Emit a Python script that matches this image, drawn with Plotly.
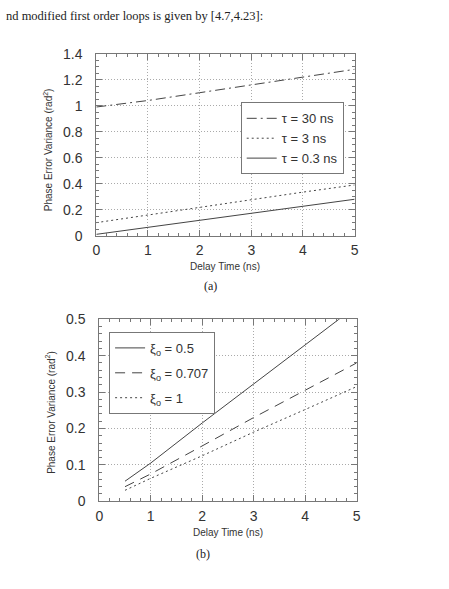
import plotly.graph_objects as go

# ---- data ----
delay_a = [0, 1, 2, 3, 4, 5]
tau30 = [0.99, 1.04, 1.10, 1.16, 1.22, 1.28]
tau3 = [0.10, 0.16, 0.22, 0.28, 0.335, 0.39]
tau03 = [0.01, 0.065, 0.12, 0.175, 0.23, 0.28]

delay_b = [0.5, 1, 2, 3, 4, 5]
xi05 = [0.055, 0.105, 0.215, 0.322, 0.43, 0.537]
xi0707 = [0.040, 0.075, 0.152, 0.23, 0.305, 0.38]
xi1 = [0.030, 0.063, 0.125, 0.19, 0.252, 0.315]

W, H = 449, 589
LINE = "#444444"
AX = "#777777"
TXT = "#333333"
SANS = "Liberation Sans, Arial, sans-serif"
SERIF = "Liberation Serif, Times New Roman, serif"

def px_x(x):
    return x / W

def px_y(y):
    return 1 - y / H

fig = go.Figure()

fig.add_trace(go.Scatter(x=delay_a, y=tau30, mode="lines", name="τ = 30 ns",
                         line=dict(color=LINE, width=1, dash="10px,4px,2px,4px"),
                         xaxis="x", yaxis="y", legend="legend"))
fig.add_trace(go.Scatter(x=delay_a, y=tau3, mode="lines", name="τ = 3 ns",
                         line=dict(color=LINE, width=1, dash="2px,3px"),
                         xaxis="x", yaxis="y", legend="legend"))
fig.add_trace(go.Scatter(x=delay_a, y=tau03, mode="lines", name="τ = 0.3 ns",
                         line=dict(color=LINE, width=1),
                         xaxis="x", yaxis="y", legend="legend"))

fig.add_trace(go.Scatter(x=delay_b, y=xi05, mode="lines", name="ξ<sub>o</sub> = 0.5",
                         line=dict(color=LINE, width=1), legendgroup="g1",
                         xaxis="x2", yaxis="y2", legend="legend2"))
fig.add_trace(go.Scatter(x=delay_b, y=xi0707, mode="lines", name="ξ<sub>o</sub> = 0.707",
                         line=dict(color=LINE, width=1, dash="10px,7px"), legendgroup="g2",
                         xaxis="x2", yaxis="y2", legend="legend2"))
fig.add_trace(go.Scatter(x=delay_b, y=xi1, mode="lines", name="ξ<sub>o</sub> = 1",
                         line=dict(color=LINE, width=1, dash="2px,3px"), legendgroup="g3",
                         xaxis="x2", yaxis="y2", legend="legend2"))

GRID = dict(showgrid=True, gridcolor="#aaaaaa", griddash="1px,2px", gridwidth=1)

def xaxis(domain, anchor):
    return dict(domain=domain, anchor=anchor, range=[0, 5], dtick=1,
                showline=True, linecolor=AX, linewidth=1, mirror="ticks",
                ticks="inside", ticklen=6, tickcolor=AX, ticklabelstandoff=2,
                zeroline=False, **GRID,
                minor=dict(dtick=0.2, ticks="inside", ticklen=3, tickcolor=AX, showgrid=False),
                tickfont=dict(family=SANS, size=14, color=TXT))

def yaxis(domain, anchor, rng, dt, mdt):
    return dict(domain=domain, anchor=anchor, range=rng, dtick=dt,
                showline=True, linecolor=AX, linewidth=1, mirror="ticks",
                ticks="inside", ticklen=6, tickcolor=AX, ticklabelstandoff=10,
                zeroline=False, **GRID,
                minor=dict(dtick=mdt, ticks="inside", ticklen=3, tickcolor=AX, showgrid=False),
                tickfont=dict(family=SANS, size=14, color=TXT))

fig.update_layout(
    width=W, height=H,
    margin=dict(l=0, r=0, t=0, b=0),
    paper_bgcolor="white", plot_bgcolor="white",
    xaxis=xaxis([px_x(94), px_x(357)], "y"),
    yaxis=yaxis([px_y(234), px_y(47)], "x", [0, 1.4], 0.2, 0.05),
    xaxis2=xaxis([px_x(97), px_x(359)], "y2"),
    yaxis2=yaxis([px_y(507), px_y(320)], "x2", [0, 0.5], 0.1, 0.02),
    legend=dict(x=px_x(241), y=px_y(97), xanchor="left", yanchor="top",
                bgcolor="white", bordercolor=AX, borderwidth=1,
                font=dict(family=SANS, size=13, color=TXT), tracegroupgap=0),
    legend2=dict(x=px_x(107), y=px_y(333), xanchor="left", yanchor="top",
                 bgcolor="white", bordercolor=AX, borderwidth=1,
                 font=dict(family=SANS, size=13, color=TXT), tracegroupgap=5),
    showlegend=True,
)

annotations = [
    dict(text="nd modified first order loops is given by [4.7,4.23]:", x=0, y=px_y(8),
         xanchor="left", yanchor="middle", font=dict(family=SERIF, size=12.5, color="#222222")),
    dict(text="Delay Time (ns)", x=px_x(225), y=px_y(266), xanchor="center", yanchor="middle",
         font=dict(family=SANS, size=10, color=TXT)),
    dict(text="(a)", x=px_x(210), y=px_y(286), xanchor="center", yanchor="middle",
         font=dict(family=SERIF, size=12, color="#222222")),
    dict(text="Phase Error Variance (rad<sup>2</sup>)", x=px_x(45), y=px_y(146), textangle=-90,
         xanchor="center", yanchor="middle", font=dict(family=SANS, size=10, color=TXT)),
    dict(text="Delay Time (ns)", x=px_x(228), y=px_y(539), xanchor="center", yanchor="middle",
         font=dict(family=SANS, size=10, color=TXT)),
    dict(text="(b)", x=px_x(203), y=px_y(561), xanchor="center", yanchor="middle",
         font=dict(family=SERIF, size=12, color="#222222")),
    dict(text="Phase Error Variance (rad<sup>2</sup>)", x=px_x(47), y=px_y(416), textangle=-90,
         xanchor="center", yanchor="middle", font=dict(family=SANS, size=10, color=TXT)),
]
for a in annotations:
    a.update(xref="paper", yref="paper", showarrow=False)
fig.update_layout(annotations=annotations)

fig.write_html("out.html")
